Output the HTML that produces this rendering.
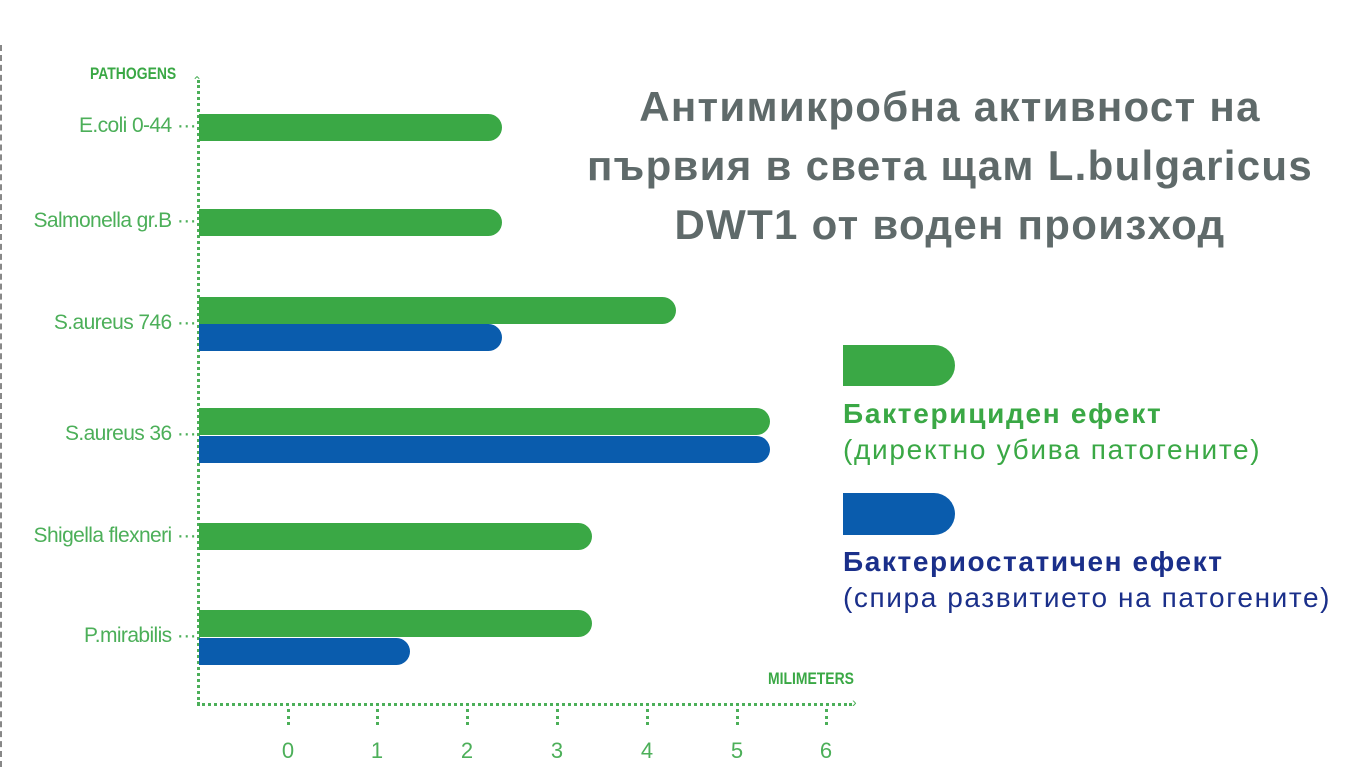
<!DOCTYPE html>
<html><head><meta charset="utf-8"><style>
body{margin:0;width:1363px;height:767px;background:#fff;position:relative;overflow:hidden;font-family:"Liberation Sans","DejaVu Sans",sans-serif}
.a{position:absolute}
.g{background:#3aa845}.b{background:#0a5cad}
.bar{position:absolute;left:199px;height:27px;border-radius:0 14px 14px 0}
.lab{position:absolute;right:1167px;color:#4caf59;font-size:21px;white-space:nowrap;letter-spacing:-0.6px}
.tk{position:absolute;top:738px;color:#4caf59;font-size:22px;width:30px;text-align:center}
.tl{position:absolute;top:709px;height:16px;border-left:3px dotted #4caf59}
</style></head><body>
<div class="a" style="left:0;top:45px;height:722px;border-left:2px dashed #888"></div>
<div class="a" style="left:197px;top:80px;height:625px;border-left:3px dotted #4caf59"></div>
<div class="a" style="left:197px;top:703px;width:655px;border-top:3px dotted #4caf59"></div>
<div class="a" style="left:192px;top:74px;color:#4caf59;font-size:12px">⌃</div>
<div class="a" style="left:852px;top:694px;color:#4caf59;font-size:14px">›</div>
<div class="a" style="left:90px;top:64px;color:#3aa845;font-size:17px;font-weight:bold;transform:scaleX(0.82);transform-origin:left">PATHOGENS</div>
<div class="a" style="left:768px;top:669px;color:#3aa845;font-size:17px;font-weight:bold;transform:scaleX(0.82);transform-origin:left">MILIMETERS</div>

<div class="bar g" style="top:114px;width:303px"></div>
<div class="bar g" style="top:209px;width:303px"></div>
<div class="bar g" style="top:297px;width:477px"></div>
<div class="bar b" style="top:324px;width:303px"></div>
<div class="bar g" style="top:408px;width:571px"></div>
<div class="bar b" style="top:436px;width:571px"></div>
<div class="bar g" style="top:523px;width:393px"></div>
<div class="bar g" style="top:610px;width:393px"></div>
<div class="bar b" style="top:638px;width:211px"></div>

<div class="lab" style="top:114px">E.coli 0-44 ···</div>
<div class="lab" style="top:209px">Salmonella gr.B ···</div>
<div class="lab" style="top:311px">S.aureus 746 ···</div>
<div class="lab" style="top:422px">S.aureus 36 ···</div>
<div class="lab" style="top:524px">Shigella flexneri ···</div>
<div class="lab" style="top:624px">P.mirabilis ···</div>

<div class="tl" style="left:287px"></div><div class="tk" style="left:273px">0</div>
<div class="tl" style="left:376px"></div><div class="tk" style="left:362px">1</div>
<div class="tl" style="left:466px"></div><div class="tk" style="left:452px">2</div>
<div class="tl" style="left:556px"></div><div class="tk" style="left:542px">3</div>
<div class="tl" style="left:646px"></div><div class="tk" style="left:632px">4</div>
<div class="tl" style="left:736px"></div><div class="tk" style="left:722px">5</div>
<div class="tl" style="left:825px"></div><div class="tk" style="left:811px">6</div>

<div class="a" style="left:540px;width:820px;top:77px;text-align:center;color:#5f6a6a;font-size:42px;letter-spacing:1.3px;font-weight:bold;line-height:59px">Антимикробна активност на<br>първия в света щам L.bulgaricus<br>DWT1 от воден произход</div>

<div class="a g" style="left:843px;top:345px;width:112px;height:41px;border-radius:0 21px 21px 0"></div>
<div class="a" style="left:843px;top:396px;color:#3aa845;font-size:28px;letter-spacing:1.7px;line-height:36px;white-space:nowrap"><b>Бактерициден ефект</b><br>(директно убива патогените)</div>
<div class="a b" style="left:843px;top:493px;width:112px;height:42px;border-radius:0 21px 21px 0"></div>
<div class="a" style="left:843px;top:544px;color:#1a2f8a;font-size:28px;letter-spacing:1.6px;line-height:36px;white-space:nowrap"><b>Бактериостатичен ефект</b><br>(спира развитието на патогените)</div>
</body></html>
